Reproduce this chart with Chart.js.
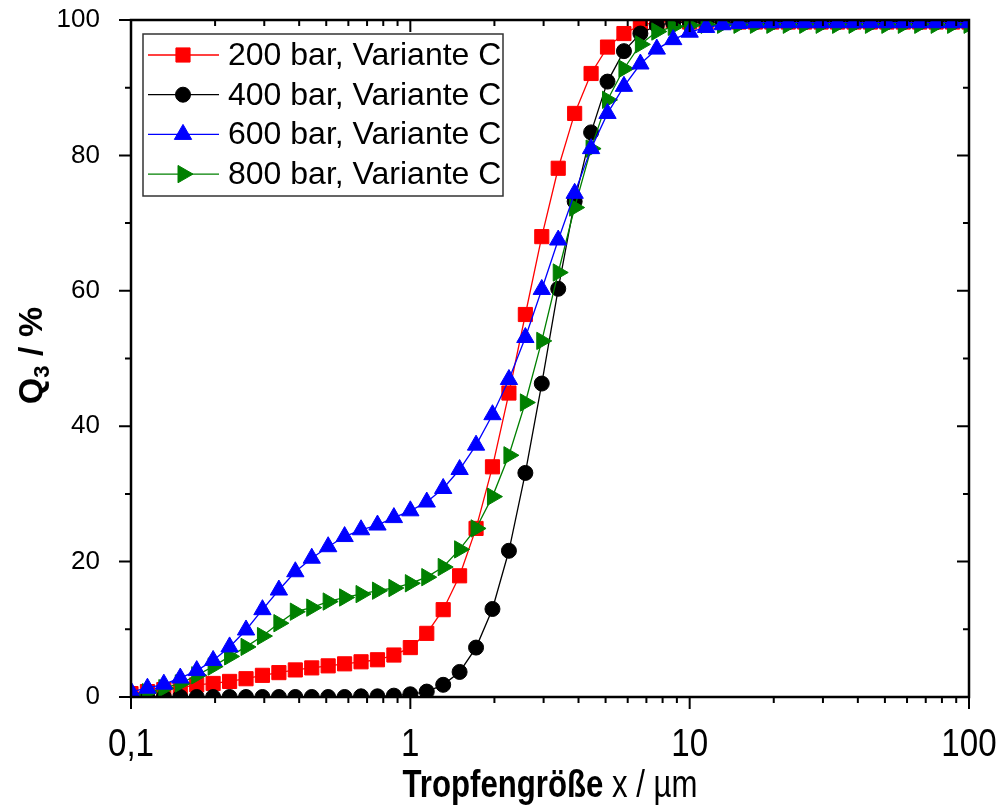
<!DOCTYPE html>
<html>
<head>
<meta charset="utf-8">
<script src="https://cdn.jsdelivr.net/npm/chart.js@4.4.0/dist/chart.umd.min.js"></script>
<style>
  html, body { margin: 0; padding: 0; background: #fff; }
</style>
</head>
<body>
<canvas id="myChart" width="996" height="808"></canvas>
<script>
// Tropfengröße x / µm (Messraster)
const groessen = [0.1, 0.1145, 0.1311, 0.1501, 0.1719, 0.1968, 0.2254, 0.2581, 0.2955, 0.3384,
  0.3875, 0.4437, 0.508, 0.5817, 0.6661, 0.7627, 0.8733, 1.0, 1.145, 1.311,
  1.501, 1.719, 1.968, 2.254, 2.581, 2.955, 3.384, 3.875, 4.437, 5.08,
  5.817, 6.661, 7.627, 8.733, 10.0, 11.45, 13.11, 15.01, 17.19, 19.68,
  22.54, 25.81, 29.55, 33.84, 38.75, 44.37, 50.8, 58.17, 66.61, 76.27,
  87.33, 100]

// Q3 / %
const q3_200bar = [0.5, 0.8, 1.1, 1.4, 1.8, 2.0, 2.3, 2.7, 3.2, 3.6,
  4.0, 4.3, 4.6, 4.9, 5.2, 5.5, 6.2, 7.3, 9.4, 12.9,
  17.9, 24.9, 34.0, 44.9, 56.5, 68.0, 78.1, 86.2, 92.1, 96.0,
  98.0, 99.2, 99.7, 99.8, 99.7, 99.7, 99.7, 99.7, 99.7, 99.7,
  99.7, 99.7, 99.7, 99.7, 99.7, 99.7, 99.7, 99.7, 99.7, 99.7,
  99.7, 99.7]
const q3_400bar = [0, 0, 0, 0, 0, 0, 0, 0, 0, 0,
  0, 0, 0, 0, 0.1, 0.1, 0.2, 0.4, 0.8, 1.8,
  3.7, 7.3, 13.0, 21.6, 33.1, 46.3, 60.3, 73.2, 83.4, 90.9,
  95.4, 98.0, 99.2, 99.6, 99.7, 99.7, 99.7, 99.7, 99.7, 99.7,
  99.7, 99.7, 99.7, 99.7, 99.7, 99.7, 99.7, 99.7, 99.7, 99.7,
  99.7, 99.7]
const q3_600bar = [0.8, 1.3, 1.9, 2.8, 3.9, 5.4, 7.4, 9.9, 12.9, 15.8,
  18.5, 20.5, 22.2, 23.7, 24.7, 25.4, 26.5, 27.5, 28.8, 30.8,
  33.6, 37.2, 41.7, 46.9, 53.1, 60.2, 67.5, 74.4, 81.0, 86.2,
  90.2, 93.5, 95.7, 97.1, 98.2, 98.9, 99.3, 99.5, 99.6, 99.6,
  99.6, 99.6, 99.6, 99.6, 99.6, 99.6, 99.6, 99.6, 99.6, 99.6,
  99.6, 99.6]
const q3_800bar = [0.3, 0.7, 1.3, 2.0, 3.2, 4.5, 6.0, 7.4, 9.0, 10.9,
  12.6, 13.2, 14.1, 14.7, 15.2, 15.7, 16.1, 16.8, 17.7, 19.2,
  21.8, 24.9, 29.6, 35.7, 43.5, 52.6, 62.7, 72.3, 81.0, 88.2,
  92.8, 96.4, 98.3, 99.0, 99.2, 99.3, 99.3, 99.3, 99.3, 99.3,
  99.3, 99.3, 99.3, 99.3, 99.3, 99.3, 99.3, 99.3, 99.3, 99.3,
  99.3, 99.3]

const serienNamen = ['200 bar, Variante C', '400 bar, Variante C', '600 bar, Variante C', '800 bar, Variante C']
const xTicks = [0.1, 1, 10, 100]
const xTickLabels = ['0,1', '1', '10', '100']
const yTicks = [0, 20, 40, 60, 80, 100]

const schrift = "'Liberation Sans', Arial, sans-serif"

const stile = [
  { farbe: '#ff0000', form: 'rect', r: 10, rot: 0 },
  { farbe: '#000000', form: 'circle', r: 7.5, rot: 0 },
  { farbe: '#0000ff', form: 'triangle', r: 10, rot: 0 },
  { farbe: '#008000', form: 'triangle', r: 10, rot: 90 }
]
const reihen = [q3_200bar, q3_400bar, q3_600bar, q3_800bar]
const reihenfolge = [3, 2, 0, 1] // blau oben, dann grün, schwarz, rot

function zeichneMarker(ctx, s, x, y) {
  ctx.save()
  ctx.translate(x, y)
  ctx.rotate(s.rot * Math.PI / 180)
  ctx.fillStyle = s.farbe
  ctx.strokeStyle = s.farbe
  ctx.lineWidth = 1
  ctx.beginPath()
  if (s.form === 'rect') {
    const h = s.r * Math.SQRT1_2
    ctx.rect(-h, -h, 2 * h, 2 * h)
  } else if (s.form === 'circle') {
    ctx.arc(0, 0, s.r, 0, Math.PI * 2)
  } else {
    for (let k = 0; k < 3; k++) {
      const w = k * 2 * Math.PI / 3
      ctx.lineTo(Math.sin(w) * s.r, -Math.cos(w) * s.r)
    }
    ctx.closePath()
  }
  ctx.fill()
  ctx.stroke()
  ctx.restore()
}

// schmale Schrift: Liberation Sans horizontal gestaucht
function schmalerText(ctx, text, x, y, font, faktor, align) {
  ctx.save()
  ctx.font = font
  const w = ctx.measureText(text).width * faktor
  let x0 = x
  if (align === 'center') x0 = x - w / 2
  ctx.translate(x0, y)
  ctx.scale(faktor, 1)
  ctx.textAlign = 'left'
  ctx.fillText(text, 0, 0)
  ctx.restore()
  return w
}

const rahmen = {
  id: 'rahmen',
  afterDatasetsDraw(chart) {
    const { ctx, chartArea: a, scales: { x, y } } = chart
    ctx.save()
    ctx.strokeStyle = '#000'
    ctx.lineWidth = 2
    ctx.beginPath()
    const strich = (x1, y1, x2, y2) => { ctx.moveTo(x1, y1); ctx.lineTo(x2, y2) }
    xTicks.forEach((d, i) => {
      const px = x.getPixelForValue(d)
      strich(px, a.bottom, px, a.bottom + 12)
      strich(px, a.top, px, a.top + 12)
      if (i < xTicks.length - 1) {
        for (let m = 2; m < 10; m++) {
          const pm = x.getPixelForValue(d * m)
          strich(pm, a.bottom, pm, a.bottom + 6)
          strich(pm, a.top, pm, a.top + 6)
        }
      }
    })
    yTicks.forEach((v, i) => {
      const py = y.getPixelForValue(v)
      strich(a.left, py, a.left - 12, py)
      strich(a.right, py, a.right - 12, py)
      if (i < yTicks.length - 1) {
        const pm = y.getPixelForValue((v + yTicks[i + 1]) / 2)
        strich(a.left, pm, a.left - 6, pm)
        strich(a.right, pm, a.right - 6, pm)
      }
    })
    ctx.stroke()
    ctx.lineWidth = 2.5
    ctx.strokeRect(a.left, a.top, a.right - a.left, a.bottom - a.top)
    ctx.restore()
  },
  afterDraw(chart) {
    const { ctx, chartArea: a, scales: { x } } = chart
    ctx.save()
    // Legende
    const lx = a.left + 12, ly = a.top + 14, lw = 360, lh = 162
    ctx.fillStyle = '#fff'
    ctx.fillRect(lx, ly, lw, lh)
    ctx.strokeStyle = '#333'
    ctx.lineWidth = 1.5
    ctx.strokeRect(lx, ly, lw, lh)
    ctx.font = '32px ' + schrift
    ctx.textBaseline = 'middle'
    ctx.textAlign = 'left'
    serienNamen.forEach((name, i) => {
      const yy = ly + 21 + i * 39.7
      ctx.strokeStyle = stile[i].farbe
      ctx.lineWidth = 1.3
      ctx.beginPath()
      ctx.moveTo(lx + 5, yy)
      ctx.lineTo(lx + 76, yy)
      ctx.stroke()
      zeichneMarker(ctx, stile[i], lx + 40, yy)
      ctx.fillStyle = '#000'
      ctx.fillText(name, lx + 85, yy + 1)
    })

    // x-Achsenbeschriftung
    ctx.fillStyle = '#000'
    ctx.textBaseline = 'middle'
    xTicks.forEach((v, i) => {
      schmalerText(ctx, xTickLabels[i], x.getPixelForValue(v), 745, '39px ' + schrift, 0.85, 'center')
    })

    // x-Achsentitel: fett + normal
    const teil1 = 'Tropfengröße', teil2 = ' x / µm'
    const f1 = 'bold 38px ' + schrift, f2 = '38px ' + schrift, fk = 0.82
    ctx.font = f1
    const w1 = ctx.measureText(teil1).width * fk
    ctx.font = f2
    const w2 = ctx.measureText(teil2).width * fk
    const sx = (a.left + a.right) / 2 - (w1 + w2) / 2
    schmalerText(ctx, teil1, sx, 787, f1, fk, 'left')
    schmalerText(ctx, teil2, sx + w1, 787, f2, fk, 'left')

    // y-Achsentitel: Q3 / %
    ctx.translate(30, (a.top + a.bottom) / 2 - 3)
    ctx.rotate(-Math.PI / 2)
    ctx.font = 'bold 34px ' + schrift
    const wq = ctx.measureText('Q').width
    ctx.font = 'bold 22px ' + schrift
    const w3 = ctx.measureText('3').width
    ctx.font = 'bold 34px ' + schrift
    const wr = ctx.measureText(' / %').width
    const qx = -(wq + w3 + wr) / 2
    ctx.textBaseline = 'alphabetic'
    ctx.fillText('Q', qx, 12)
    ctx.font = 'bold 22px ' + schrift
    ctx.fillText('3', qx + wq, 19)
    ctx.font = 'bold 34px ' + schrift
    ctx.fillText(' / %', qx + wq + w3, 12)
    ctx.restore()
  }
}

const datasets = reihen.map((werte, i) => ({
  label: serienNamen[i],
  data: groessen.map((g, k) => ({ x: g, y: werte[k] })),
  borderColor: stile[i].farbe,
  backgroundColor: stile[i].farbe,
  borderWidth: 1.3,
  pointStyle: stile[i].form,
  pointRadius: stile[i].r,
  pointRotation: stile[i].rot,
  pointBorderWidth: 1,
  pointBorderColor: stile[i].farbe,
  pointBackgroundColor: stile[i].farbe,
  tension: 0,
  clip: 0,
  order: reihenfolge[i]
}))

const config = {
  type: 'line',
  data: { datasets: datasets },
  options: {
    responsive: false,
    animation: false,
    layout: { padding: { left: 0, right: 27, top: 20, bottom: 0 } },
    plugins: { legend: { display: false }, tooltip: { enabled: false } },
    scales: {
      x: {
        type: 'logarithmic',
        min: 0.1,
        max: 100,
        grid: { display: false },
        border: { display: false },
        afterBuildTicks: (s) => { s.ticks = xTicks.map((v) => ({ value: v })) },
        afterFit: (s) => { s.height = 111; s.paddingLeft = 0; s.paddingRight = 0 },
        ticks: { display: false }
      },
      y: {
        min: 0,
        max: 100,
        grid: { display: false },
        border: { display: false },
        afterBuildTicks: (s) => { s.ticks = yTicks.map((v) => ({ value: v })) },
        afterFit: (s) => { s.width = 131; s.paddingTop = 0; s.paddingBottom = 0 },
        ticks: {
          padding: 23,
          color: '#000',
          font: { family: schrift, size: 26 }
        }
      }
    }
  },
  plugins: [rahmen]
}

const myChart = new Chart(document.getElementById('myChart'), config)
</script>
</body>
</html>
